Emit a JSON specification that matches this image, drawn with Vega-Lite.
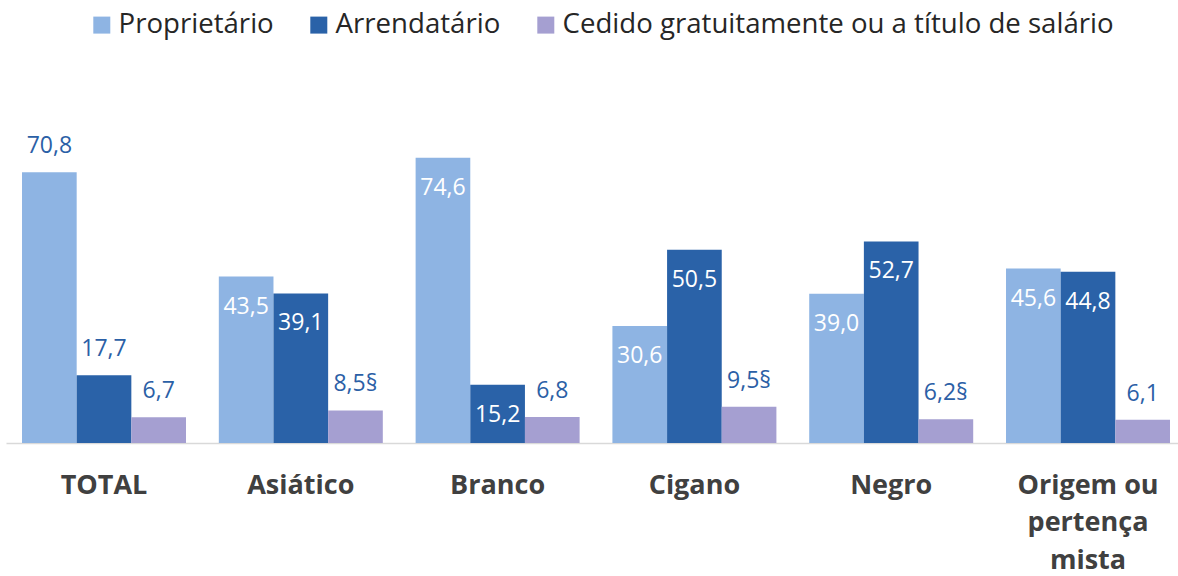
{
  "$schema": "https://vega.github.io/schema/vega-lite/v6.json",
  "autosize": {"type": "none"},
  "width": 1172,
  "height": 306,
  "padding": {"left": 6, "top": 137, "right": 0, "bottom": 133},
  "background": "white",
  "config": {"view": {"stroke": null}, "font": "Open Sans"},
  "data": {
    "values": [
      {"grupo": "TOTAL", "serie": "Proprietário", "valor": 70.8, "rotulo": "70,8"},
      {"grupo": "TOTAL", "serie": "Arrendatário", "valor": 17.7, "rotulo": "17,7"},
      {"grupo": "TOTAL", "serie": "Cedido gratuitamente ou a título de salário", "valor": 6.7, "rotulo": "6,7"},
      {"grupo": "Asiático", "serie": "Proprietário", "valor": 43.5, "rotulo": "43,5"},
      {"grupo": "Asiático", "serie": "Arrendatário", "valor": 39.1, "rotulo": "39,1"},
      {"grupo": "Asiático", "serie": "Cedido gratuitamente ou a título de salário", "valor": 8.5, "rotulo": "8,5§"},
      {"grupo": "Branco", "serie": "Proprietário", "valor": 74.6, "rotulo": "74,6"},
      {"grupo": "Branco", "serie": "Arrendatário", "valor": 15.2, "rotulo": "15,2"},
      {"grupo": "Branco", "serie": "Cedido gratuitamente ou a título de salário", "valor": 6.8, "rotulo": "6,8"},
      {"grupo": "Cigano", "serie": "Proprietário", "valor": 30.6, "rotulo": "30,6"},
      {"grupo": "Cigano", "serie": "Arrendatário", "valor": 50.5, "rotulo": "50,5"},
      {"grupo": "Cigano", "serie": "Cedido gratuitamente ou a título de salário", "valor": 9.5, "rotulo": "9,5§"},
      {"grupo": "Negro", "serie": "Proprietário", "valor": 39.0, "rotulo": "39,0"},
      {"grupo": "Negro", "serie": "Arrendatário", "valor": 52.7, "rotulo": "52,7"},
      {"grupo": "Negro", "serie": "Cedido gratuitamente ou a título de salário", "valor": 6.2, "rotulo": "6,2§"},
      {"grupo": "Origem ou pertença mista", "serie": "Proprietário", "valor": 45.6, "rotulo": "45,6"},
      {"grupo": "Origem ou pertença mista", "serie": "Arrendatário", "valor": 44.8, "rotulo": "44,8"},
      {"grupo": "Origem ou pertença mista", "serie": "Cedido gratuitamente ou a título de salário", "valor": 6.1, "rotulo": "6,1"}
    ]
  },
  "encoding": {
    "x": {
      "field": "grupo",
      "type": "nominal",
      "sort": ["TOTAL", "Asiático", "Branco", "Cigano", "Negro", "Origem ou pertença mista"],
      "scale": {"paddingInner": 0.1667, "paddingOuter": 0.061, "align": 0.667},
      "axis": {
        "title": null,
        "orient": "bottom",
        "ticks": false,
        "grid": false,
        "domainColor": "#d9d9d9",
        "domainWidth": 1.5,
        "labelAngle": 0,
        "labelFont": "Open Sans",
        "labelFontWeight": "bold",
        "labelFontSize": 27,
        "labelColor": "#404040",
        "labelPadding": 29,
        "labelBaseline": "top",
        "labelLineHeight": 37.5,
        "labelLimit": 400,
        "labelExpr": "datum.label == 'Origem ou pertença mista' ? ['Origem ou', 'pertença', 'mista'] : datum.label"
      }
    },
    "xOffset": {
      "field": "serie",
      "type": "nominal",
      "sort": ["Proprietário", "Arrendatário", "Cedido gratuitamente ou a título de salário"],
      "scale": {"paddingInner": 0, "paddingOuter": 0}
    },
    "y": {
      "field": "valor",
      "type": "quantitative",
      "scale": {"domain": [0, 80], "nice": false, "zero": true},
      "axis": null
    }
  },
  "layer": [
    {
      "mark": {"type": "bar"},
      "encoding": {
        "color": {
          "field": "serie",
          "type": "nominal",
          "scale": {
            "domain": ["Proprietário", "Arrendatário", "Cedido gratuitamente ou a título de salário"],
            "range": ["#8eb4e3", "#2a62a8", "#a59fd1"]
          },
          "legend": {
            "title": null,
            "orient": "none",
            "direction": "horizontal",
            "legendX": 82,
            "legendY": -126,
            "symbolType": "square",
            "symbolSize": 289,
            "symbolStrokeWidth": 0,
            "symbolOpacity": 1,
            "labelFont": "Open Sans",
            "labelFontSize": 27.6,
            "labelColor": "#262626",
            "labelOffset": 3,
            "labelLimit": 800,
            "columnPadding": 31
          }
        }
      }
    },
    {
      "transform": [{"filter": "datum.grupo == 'TOTAL' || datum.serie == 'Cedido gratuitamente ou a título de salário'"}],
      "mark": {"type": "text", "baseline": "alphabetic", "align": "center", "dy": -19, "font": "Open Sans", "fontSize": 23, "color": "#2b60a6"},
      "encoding": {"text": {"field": "rotulo"}}
    },
    {
      "transform": [{"filter": "!(datum.grupo == 'TOTAL' || datum.serie == 'Cedido gratuitamente ou a título de salário')"}],
      "mark": {"type": "text", "baseline": "alphabetic", "align": "center", "dy": 37, "font": "Open Sans", "fontSize": 23, "color": "#ffffff"},
      "encoding": {"text": {"field": "rotulo"}}
    }
  ]
}
